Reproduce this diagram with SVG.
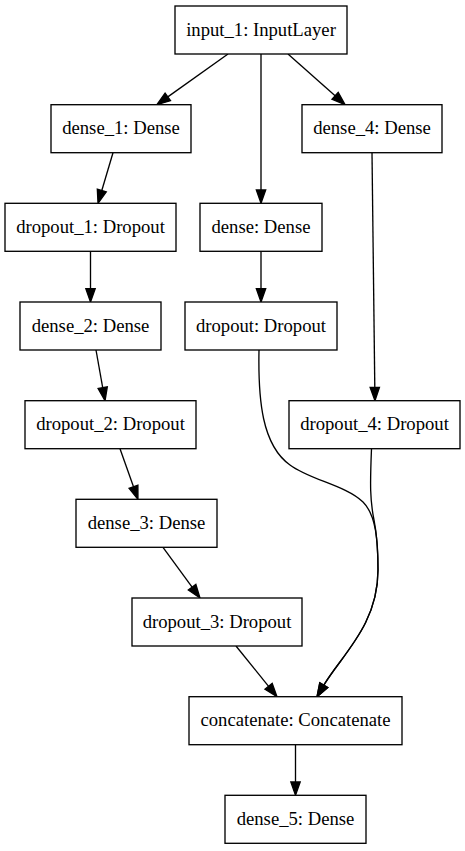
<svg xmlns="http://www.w3.org/2000/svg" width="465" height="851" viewBox="0 0 465 851">
<style>
.n rect{fill:#fff;stroke:#000;stroke-width:1.33}
.n text{font-family:'Liberation Serif','DejaVu Serif',serif;font-size:18.67px;text-anchor:middle;fill:#000}
.e path{fill:none;stroke:#000;stroke-width:1.33;marker-end:url(#ah)}
</style>
<defs>
<marker id="ah" markerUnits="userSpaceOnUse" markerWidth="16" markerHeight="12" refX="0" refY="0" viewBox="-1 -6 16 12" orient="auto" overflow="visible">
<path d="M0,-4.67 L13.33,0 L0,4.67 Z" fill="#000" stroke="#000" stroke-width="1.33"/>
</marker>
</defs>
<rect width="465" height="851" fill="#fff"/>
<g id="connectors" class="e">
<path d="M228,54 L167.8,96.9"/>
<path d="M261,54 L261,190"/>
<path d="M288,54 L335.1,95.8"/>
<path d="M113,152.7 L101.8,190.5"/>
<path d="M372,152.7 L374.8,387.4"/>
<path d="M90.5,251.3 L90.5,288.7"/>
<path d="M261,251.3 L261,288.7"/>
<path d="M96,350 L102.7,387.6"/>
<path d="M120,448.7 L133.5,486.7"/>
<path d="M163,547.3 L192.1,587.2"/>
<path d="M236,646 L268.6,686.3"/>
<path d="M259,350 C258,400 262,445 290,465 C310,480 345,485 363,502 C376,515 378,540 378,570 C378,625 341.7,655 323.8,685.2"/>
<path d="M371.5,448.7 C370,485 370,500 374,520 C377,535 378,550 378,570 C378,625 341.7,655 323.8,685.2"/>
<path d="M295.5,744.7 L295.5,782"/>
</g>
<g font-family="Liberation Serif, DejaVu Serif, serif">
<g id="input_1" class="n"><rect x="175" y="6" width="172" height="48"/><text x="261" y="35.6">input_1: InputLayer</text></g>
<g id="dense_1" class="n"><rect x="51" y="104.7" width="140" height="48"/><text x="121" y="134.3">dense_1: Dense</text></g>
<g id="dense_4" class="n"><rect x="302" y="104.7" width="140" height="48"/><text x="372" y="134.3">dense_4: Dense</text></g>
<g id="dropout_1" class="n"><rect x="5" y="203.3" width="171" height="48"/><text x="90.5" y="232.9">dropout_1: Dropout</text></g>
<g id="dense" class="n"><rect x="200" y="203.3" width="122" height="48"/><text x="261" y="232.9">dense: Dense</text></g>
<g id="dense_2" class="n"><rect x="20" y="302" width="141" height="48"/><text x="90.5" y="331.6">dense_2: Dense</text></g>
<g id="dropout" class="n"><rect x="185" y="302" width="152" height="48"/><text x="261" y="331.6">dropout: Dropout</text></g>
<g id="dropout_2" class="n"><rect x="25" y="400.7" width="171" height="48"/><text x="110.5" y="430.3">dropout_2: Dropout</text></g>
<g id="dropout_4" class="n"><rect x="289" y="400.7" width="171" height="48"/><text x="374.5" y="430.3">dropout_4: Dropout</text></g>
<g id="dense_3" class="n"><rect x="76" y="499.3" width="141" height="48"/><text x="146.5" y="528.9">dense_3: Dense</text></g>
<g id="dropout_3" class="n"><rect x="132" y="598" width="170" height="48"/><text x="217" y="627.6">dropout_3: Dropout</text></g>
<g id="concatenate" class="n"><rect x="189" y="696.7" width="213" height="48"/><text x="295.5" y="726.3">concatenate: Concatenate</text></g>
<g id="dense_5" class="n"><rect x="225" y="795.3" width="141" height="48"/><text x="295.5" y="824.9">dense_5: Dense</text></g>
</g>
</svg>
